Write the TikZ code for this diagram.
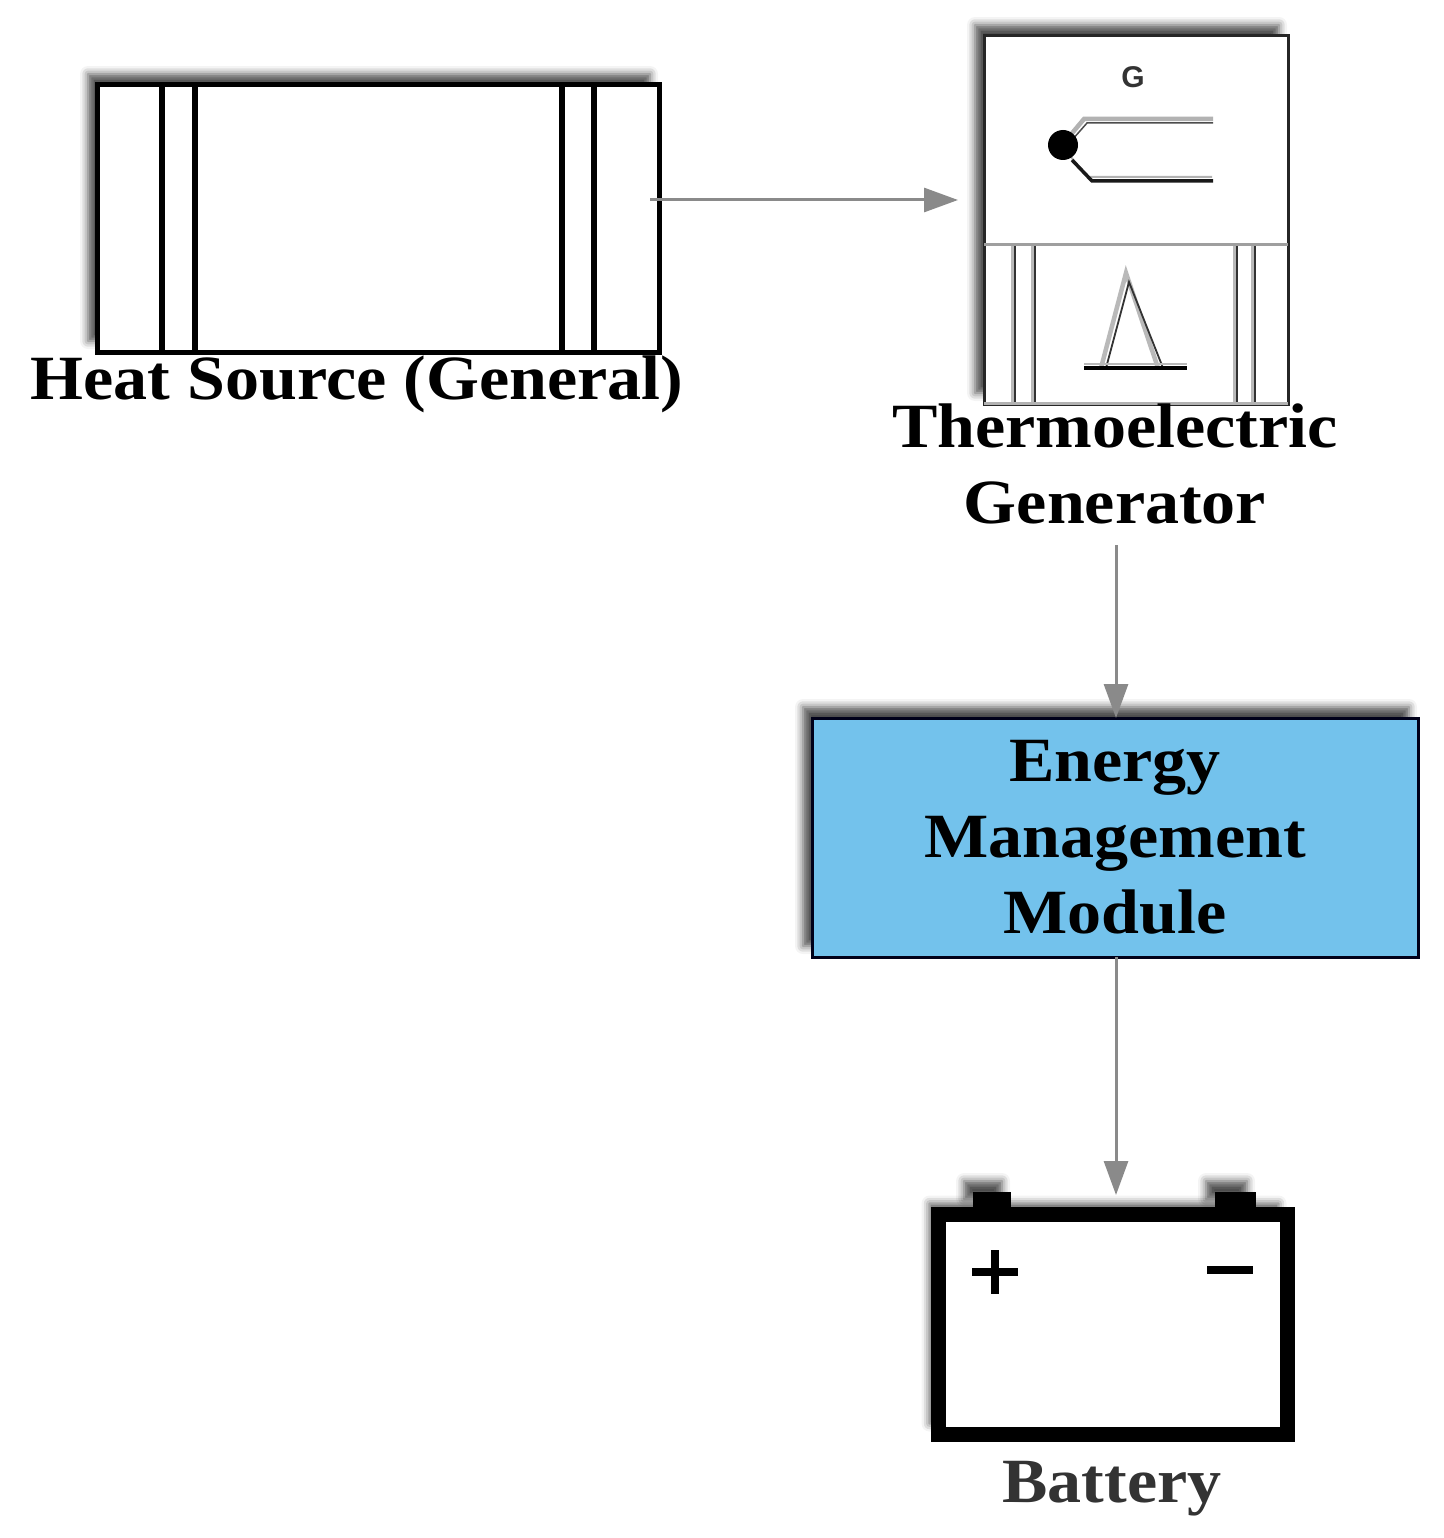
\documentclass[tikz,border=0pt]{standalone}
\usepackage{fontspec}
\setmainfont{Liberation Serif}[FakeStretch=1.08]
\newfontfamily\gfont{Liberation Sans}
\usetikzlibrary{arrows.meta,shadows.blur}
\definecolor{conngray}{HTML}{8A8A8A}
\definecolor{emmblue}{HTML}{73C2EC}
\definecolor{labgray}{HTML}{333333}
\begin{document}
\begin{tikzpicture}[x=1pt,y=-1pt,
  lbl/.style={font=\fontsize{63}{76}\selectfont\bfseries, inner sep=0pt, align=center},
  shad/.style={blur shadow={shadow xshift=-9pt, shadow yshift=11pt, shadow blur radius=8pt, shadow opacity=70}},
  conn/.style={draw=conngray, line width=3pt, -{Triangle[length=34pt,width=24pt]}},
  thick5/.style={line width=5.5pt, draw=black},
  dblg/.style={line width=4.5pt, draw=gray!55},
  dbld/.style={line width=1.8pt, draw=black!80}
]
\useasboundingbox (0,0) rectangle (1443,1538);

% Heat source
\node[shad, draw=black, line width=5pt, fill=white, minimum width=562pt, minimum height=267pt, inner sep=0pt] (hs) at (378,218.5) {};
\draw[thick5] (162,85) -- (162,352);
\draw[thick5] (195,85) -- (195,352);
\draw[thick5] (562,85) -- (562,352);
\draw[thick5] (594,85) -- (594,352);
\node[lbl, anchor=base] (hsl) at (357,399) {Heat Source (General)};

% TEG
\node[shad, draw=black!85, line width=3pt, fill=white, minimum width=304pt, minimum height=368pt, inner sep=0pt] (teg) at (1136,220) {};
\draw[line width=3pt, draw=gray!75] (984,245) -- (1288,245);
\draw[line width=3pt, draw=gray!60] (984,403) -- (1288,403);
\foreach \xx in {1013,1033,1235,1253}{
  \draw[dblg] (\xx,246) -- (\xx,402);
  \draw[dbld] (\xx+2,246) -- (\xx+2,402);
}
\node[font=\gfont\bfseries\fontsize{30}{30}\selectfont, text=black!80, inner sep=0pt] (g) at (1133,77) {G};
% thermocouple
\draw[line width=4.5pt, draw=gray!60] (1068,138) -- (1084,119) -- (1213,119);
\draw[line width=1.5pt, draw=black!70] (1072,140) -- (1087,123) -- (1213,123);
\draw[line width=2pt, draw=gray!60] (1070,156) -- (1088,177) -- (1212,177);
\draw[line width=3.5pt, draw=black!90] (1072,160) -- (1092,181) -- (1213,181);
\fill[black] (1063,145) circle[radius=15pt];
% triangle
\draw[dblg, line join=miter] (1101,368) -- (1126,273) -- (1158,368);
\draw[dbld, line join=miter] (1106,368) -- (1129,282) -- (1163,368);
\draw[line width=2pt, draw=gray!55] (1084,364) -- (1187,364);
\draw[line width=3.5pt, draw=black] (1084,368) -- (1187,368);
\node[lbl, anchor=base] (tegl) at (1115,523) {Thermoelectric\\Generator};

% EMM
\node[shad, draw=black!90!blue, line width=3pt, fill=emmblue, minimum width=606pt, minimum height=239pt, inner sep=0pt] (emm) at (1115,837.5) {};
\node[lbl] (emml) at (1115,837) {Energy\\Management\\Module};

% Battery
\fill[black, shad] (973,1192) rectangle (1011,1210);
\fill[black, shad] (1215,1192) rectangle (1256,1210);
\node[shad, draw=black, line width=15pt, fill=white, minimum width=349pt, minimum height=220pt, inner sep=0pt] (bat) at (1113,1324.5) {};
\draw[line width=8pt] (972,1272) -- (1018,1272);
\draw[line width=8pt] (995,1250) -- (995,1294);
\draw[line width=8pt] (1207,1270) -- (1253,1270);
\node[lbl, anchor=base, text=labgray] (batl) at (1112,1502) {Battery};

% connectors
\coordinate (a1) at (650,200);
\coordinate (t1) at (984,200);
\draw[conn, shorten >=26pt] (a1) -- (t1);
\coordinate (b1) at (1116,545);
\coordinate (b2) at (1116,718);
\draw[conn] (b1) -- (b2);
\coordinate (c1) at (1116,957);
\coordinate (c2) at (1116,1195);
\draw[conn] (c1) -- (c2);
\end{tikzpicture}
\end{document}
